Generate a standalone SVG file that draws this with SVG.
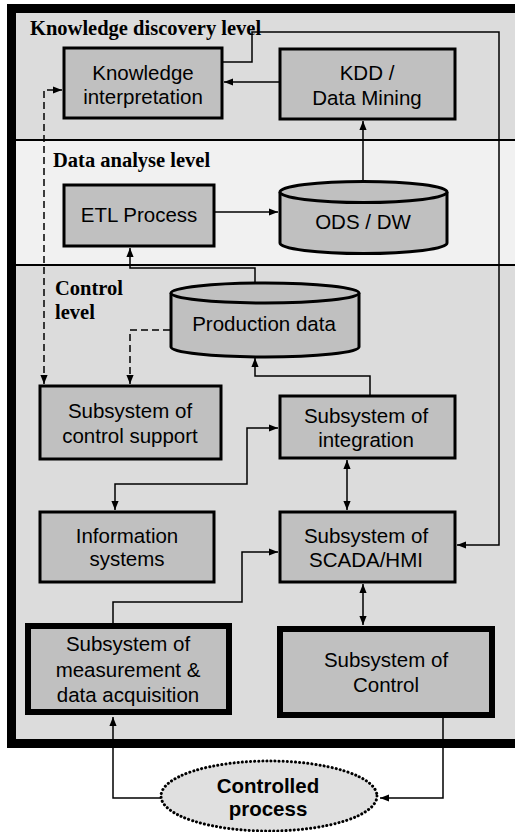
<svg xmlns="http://www.w3.org/2000/svg" width="515" height="832" viewBox="0 0 515 832">
<defs>
<marker id="ah" viewBox="0 0 10 8" refX="10" refY="4" markerWidth="9" markerHeight="8" markerUnits="userSpaceOnUse" orient="auto-start-reverse">
<path d="M0,0 L10,4 L0,8 Z" fill="#000"/>
</marker>
</defs>
<style>
.box{fill:#c0c0c0;stroke:#000;stroke-width:3}
.thick{fill:#c0c0c0;stroke:#000;stroke-width:6}
.cyl{fill:#c0c0c0;stroke:#000;stroke-width:3}
.t{font-family:"Liberation Sans",Arial,sans-serif;font-size:20.5px;fill:#000;text-anchor:middle}
.lvl{font-family:"Liberation Serif","Times New Roman",serif;font-size:20.5px;font-weight:bold;fill:#000}
.c{fill:none;stroke:#000;stroke-width:1.5}
.d{fill:none;stroke:#000;stroke-width:1.5;stroke-dasharray:7,4}
</style>
<rect x="0" y="0" width="515" height="832" fill="#fff"/>
<g id="levels">
<rect x="16" y="13" width="499" height="127" fill="#dcdcdc"/>
<rect x="16" y="140" width="499" height="125" fill="#f1f1f1"/>
<rect x="16" y="265" width="499" height="474" fill="#dcdcdc"/>
<line x1="16" y1="140" x2="515" y2="140" stroke="#000" stroke-width="2"/>
<line x1="16" y1="265" x2="515" y2="265" stroke="#000" stroke-width="2"/>
<rect x="11.5" y="8.5" width="520" height="735" fill="none" stroke="#000" stroke-width="9"/>
<text class="lvl" x="30" y="35">Knowledge discovery level</text>
<text class="lvl" x="53" y="167">Data analyse level</text>
<text class="lvl" x="55" y="295">Control</text>
<text class="lvl" x="55" y="319">level</text>
</g>
<g id="connectors">
<path class="c" d="M280,82 H224" marker-end="url(#ah)"/>
<path class="c" d="M223,62 H252 V32 H499 V545 H457" marker-end="url(#ah)"/>
<path class="c" d="M363,182 V121" marker-end="url(#ah)"/>
<path class="c" d="M215,212 H278" marker-end="url(#ah)"/>
<path class="c" d="M255,283 V268 H130 V248" marker-end="url(#ah)"/>
<path class="d" d="M44,384 V90 H62" marker-start="url(#ah)" marker-end="url(#ah)"/>
<path class="d" d="M170,330 H130 V384" marker-end="url(#ah)"/>
<path class="c" d="M370,395 V376 H255 V358" marker-end="url(#ah)"/>
<path class="c" d="M115,510 V484 H247 V428 H278" marker-start="url(#ah)" marker-end="url(#ah)"/>
<path class="c" d="M347,460 V510" marker-start="url(#ah)" marker-end="url(#ah)"/>
<path class="c" d="M113,623 V602 H242 V552 H278" marker-end="url(#ah)"/>
<path class="c" d="M363,584 V625" marker-start="url(#ah)" marker-end="url(#ah)"/>
<path class="c" d="M161,798 H113 V717" marker-end="url(#ah)"/>
<path class="c" d="M443,718 V798 H380" marker-end="url(#ah)"/>
</g>
<g id="knowledge-interpretation">
<rect class="box" x="64" y="48" width="158" height="70"/>
<text class="t" x="143" y="80">Knowledge</text>
<text class="t" x="143" y="104">interpretation</text>
</g>
<g id="kdd">
<rect class="box" x="280" y="49" width="175" height="70"/>
<text class="t" x="367" y="80">KDD /</text>
<text class="t" x="367" y="105">Data Mining</text>
</g>
<g id="etl">
<rect class="box" x="64" y="185" width="150" height="61"/>
<text class="t" x="139" y="222">ETL Process</text>
</g>
<g id="ods-dw">
<path class="cyl" d="M280,192 V243 A83.5,10.5 0 0 0 447,243 V192"/>
<ellipse class="cyl" cx="363.5" cy="192" rx="83.5" ry="10.5"/>
<text class="t" x="363" y="229">ODS / DW</text>
</g>
<g id="production-data">
<path class="cyl" d="M171,293 V347 A94,10 0 0 0 359,347 V293"/>
<ellipse class="cyl" cx="265" cy="293" rx="94" ry="10"/>
<text class="t" x="264" y="331">Production data</text>
</g>
<g id="control-support">
<rect class="box" x="40" y="386" width="181" height="73"/>
<text class="t" x="130" y="418">Subsystem of</text>
<text class="t" x="130" y="443">control support</text>
</g>
<g id="integration">
<rect class="box" x="280" y="396" width="175" height="62"/>
<text class="t" x="366" y="423">Subsystem of</text>
<text class="t" x="366" y="447">integration</text>
</g>
<g id="information-systems">
<rect class="box" x="40" y="512" width="174" height="70"/>
<text class="t" x="127" y="543">Information</text>
<text class="t" x="127" y="566">systems</text>
</g>
<g id="scada-hmi">
<rect class="box" x="280" y="512" width="175" height="70"/>
<text class="t" x="366" y="543">Subsystem of</text>
<text class="t" x="366" y="567">SCADA/HMI</text>
</g>
<g id="measurement">
<rect class="thick" x="28" y="626" width="201" height="86"/>
<text class="t" x="128" y="651">Subsystem of</text>
<text class="t" x="128" y="677">measurement &amp;</text>
<text class="t" x="128" y="702">data acquisition</text>
</g>
<g id="control">
<rect class="thick" x="280" y="629" width="212" height="86"/>
<text class="t" x="386" y="667">Subsystem of</text>
<text class="t" x="386" y="692">Control</text>
</g>
<g id="controlled-process">
<ellipse cx="269" cy="796" rx="108" ry="35" fill="#e0e0e0" stroke="#000" stroke-width="3" stroke-dasharray="0.1,4" stroke-linecap="round"/>
<text class="t" x="268" y="793" font-weight="bold">Controlled</text>
<text class="t" x="268" y="816" font-weight="bold">process</text>
</g>
</svg>
